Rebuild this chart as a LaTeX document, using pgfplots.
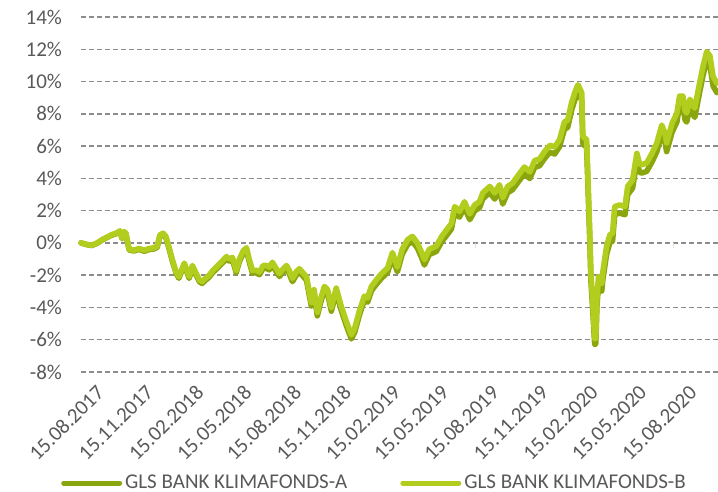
\documentclass[border=0pt]{standalone}
\usepackage{pgfplots}
\usepackage{pgfplotstable}
\pgfplotsset{compat=1.18}
\usepackage{fontspec}
\setmainfont{Carlito}
\definecolor{colA}{HTML}{8AA60F}
\definecolor{colB}{HTML}{B2CD1E}
\definecolor{gridmaj}{HTML}{8C8C8C}
\definecolor{gridmin}{HTML}{F3F3E6}
\definecolor{zeroline}{HTML}{E4E4D0}
\definecolor{txt}{HTML}{595959}
\pgfplotstableread{
day B A
0 0.0 0.0
11 -0.1 -0.11
20 -0.15 -0.16
30 0.0 -0.02
39 0.2 0.18
48 0.35 0.33
56 0.5 0.47
65 0.6 0.57
72 0.75 0.71
76 0.3 0.26
80 0.7 0.66
83 0.6 0.56
89 -0.4 -0.44
98 -0.45 -0.5
107 -0.35 -0.4
117 -0.45 -0.51
126 -0.35 -0.41
135 -0.3 -0.37
141 -0.2 -0.27
146 0.5 0.43
152 0.6 0.52
157 0.4 0.32
163 -0.3 -0.38
169 -1.05 -1.13
176 -1.8 -1.89
181 -2.1 -2.19
187 -1.6 -1.69
191 -1.25 -1.35
196 -1.7 -1.8
200 -2.1 -2.2
206 -1.4 -1.5
213 -1.9 -2.01
219 -2.3 -2.41
224 -2.4 -2.51
230 -2.2 -2.32
237 -2.0 -2.12
244 -1.7 -1.82
250 -1.5 -1.63
259 -1.2 -1.33
269 -0.85 -0.98
274 -1.0 -1.14
280 -0.9 -1.04
287 -1.7 -1.84
293 -1.0 -1.15
300 -0.5 -0.65
306 -0.3 -0.45
311 -1.0 -1.16
317 -1.7 -1.86
324 -1.7 -1.86
330 -1.8 -1.97
337 -1.4 -1.57
343 -1.4 -1.57
348 -1.5 -1.67
354 -1.2 -1.38
361 -1.6 -1.78
367 -1.9 -2.08
374 -1.6 -1.79
380 -1.4 -1.59
385 -1.7 -1.89
391 -2.2 -2.4
398 -1.8 -2.0
404 -1.6 -1.8
409 -1.8 -2.0
417 -2.1 -2.31
422 -3.0 -3.21
426 -3.7 -3.91
431 -2.9 -3.12
437 -4.3 -4.52
443 -3.5 -3.72
450 -2.7 -2.93
456 -2.9 -3.13
463 -4.0 -4.23
472 -2.8 -3.04
481 -3.9 -4.14
491 -4.9 -5.15
500 -5.7 -5.95
506 -5.3 -5.55
515 -4.2 -4.46
524 -3.3 -3.56
530 -3.4 -3.67
537 -2.7 -2.97
546 -2.3 -2.57
556 -1.9 -2.18
567 -1.55 -1.83
576 -0.6 -0.89
585 -1.5 -1.79
594 -0.4 -0.7
604 0.2 -0.1
613 0.4 0.09
622 0.0 -0.31
630 -0.6 -0.92
635 -1.05 -1.37
644 -0.4 -0.72
657 -0.2 -0.53
667 0.4 0.07
676 0.8 0.46
685 1.2 0.86
691 2.25 1.9
700 1.95 1.6
709 2.55 2.2
719 1.8 1.44
728 2.35 1.99
737 2.55 2.18
743 3.1 2.73
756 3.5 3.12
765 3.1 2.72
774 3.6 3.21
780 2.8 2.41
789 3.5 3.11
798 3.7 3.3
811 4.3 3.89
820 4.7 4.29
830 4.4 3.99
839 5.1 4.68
848 5.2 4.78
857 5.65 5.22
867 6.05 5.62
876 5.95 5.51
885 6.4 5.96
894 7.5 7.05
900 7.6 7.15
907 8.65 8.2
913 9.3 8.84
919 9.8 9.34
922 9.6 9.14
926 9.3 8.84
928 6.6 6.14
935 6.4 5.93
937 4.5 4.03
941 0.5 0.03
943 -1.9 -2.37
946 -3.5 -3.97
950 -5.95 -6.3
952 -5.9 -6.25
954 -3.5 -3.98
957 -2.1 -2.58
959 -2.1 -2.58
963 -2.5 -2.98
965 -1.8 -2.28
972 -0.2 -0.69
978 0.5 0.01
983 0.6 0.11
987 2.25 1.76
996 2.35 1.85
1006 2.25 1.75
1011 3.5 2.99
1020 3.9 3.39
1028 5.55 5.04
1033 4.9 4.38
1037 4.85 4.33
1046 4.95 4.43
1056 5.55 5.02
1065 6.2 5.67
1074 7.3 6.76
1080 6.8 6.26
1083 6.2 5.66
1093 7.4 6.85
1102 8.05 7.5
1107 9.1 8.55
1113 9.1 8.54
1117 8.2 7.64
1120 8.05 7.49
1126 8.9 8.34
1135 8.35 7.78
1144 9.9 9.33
1150 10.9 10.33
1157 11.85 11.27
1163 11.6 11.02
1169 10.3 9.72
1176 9.9 9.31
}\datatable
\begin{document}
\begin{tikzpicture}[font=\fontsize{10.5}{12}\selectfont]
\begin{axis}[
  scale only axis,
  width=318.5pt, height=177.5pt,
  xmin=0, xmax=1178, ymin=-8, ymax=14,
  axis line style={draw=none},
  major tick length=0pt, minor tick length=0pt,
  xtick={0,92,184,273,365,457,549,638,730,822,914,1004,1096},
  xticklabels={15.08.2017,15.11.2017,15.02.2018,15.05.2018,15.08.2018,15.11.2018,15.02.2019,15.05.2019,15.08.2019,15.11.2019,15.02.2020,15.05.2020,15.08.2020},
  xticklabel style={rotate=45, anchor=north east, inner sep=1pt, yshift=-8pt, xshift=2pt, text=txt},
  ytick={-8,-6,-4,-2,2,4,6,8,10,12,14},
  yticklabels={-8\%,-6\%,-4\%,-2\%,2\%,4\%,6\%,8\%,10\%,12\%,14\%},
  extra y ticks={0}, extra y tick labels={0\%},
  extra y tick style={grid style={solid, color=zeroline, line width=0.75pt, dash pattern=}},
  yticklabel style={text=txt, xshift=-6pt},
  ymajorgrids, yminorgrids, minor y tick num=4,
  major grid style={color=gridmaj, line width=0.75pt, dash pattern=on 2.6pt off 1.4pt},
  minor grid style={color=gridmin, line width=0.75pt},
  legend style={at={(0.4615,-0.3127)}, anchor=center, draw=none, fill=none,
    legend columns=2, text=txt, font=\fontsize{10.5}{12}\selectfont,
    /tikz/every even column/.append style={column sep=25pt},
    nodes={inner sep=1.5pt}},
  legend image code/.code={\draw[#1, line width=2.5pt] (0pt,0pt) -- (28pt,0pt);},
  clip=false,
]
\coordinate (sw) at (rel axis cs:0,0);
\coordinate (ne) at (rel axis cs:1,1);
\draw[zeroline, line width=0.75pt] (axis cs:365,0) -- ++(0pt,-2.5pt);
\draw[zeroline, line width=0.75pt] (axis cs:730,0) -- ++(0pt,-2.5pt);
\draw[zeroline, line width=0.75pt] (axis cs:1096,0) -- ++(0pt,-2.5pt);
\addplot[colA, line width=2.8pt, line join=round, line cap=round] table[x=day, y=A] {\datatable};
\addlegendentry{GLS BANK KLIMAFONDS-A}
\addplot[colB, line width=2.8pt, line join=round, line cap=round] table[x=day, y=B] {\datatable};
\addlegendentry{GLS BANK KLIMAFONDS-B}
\end{axis}
\pgfresetboundingbox
\path[use as bounding box] ([shift={(-40.5pt,-60pt)}]sw) rectangle ([shift={(0pt,8.5pt)}]ne);
\end{tikzpicture}
\end{document}
